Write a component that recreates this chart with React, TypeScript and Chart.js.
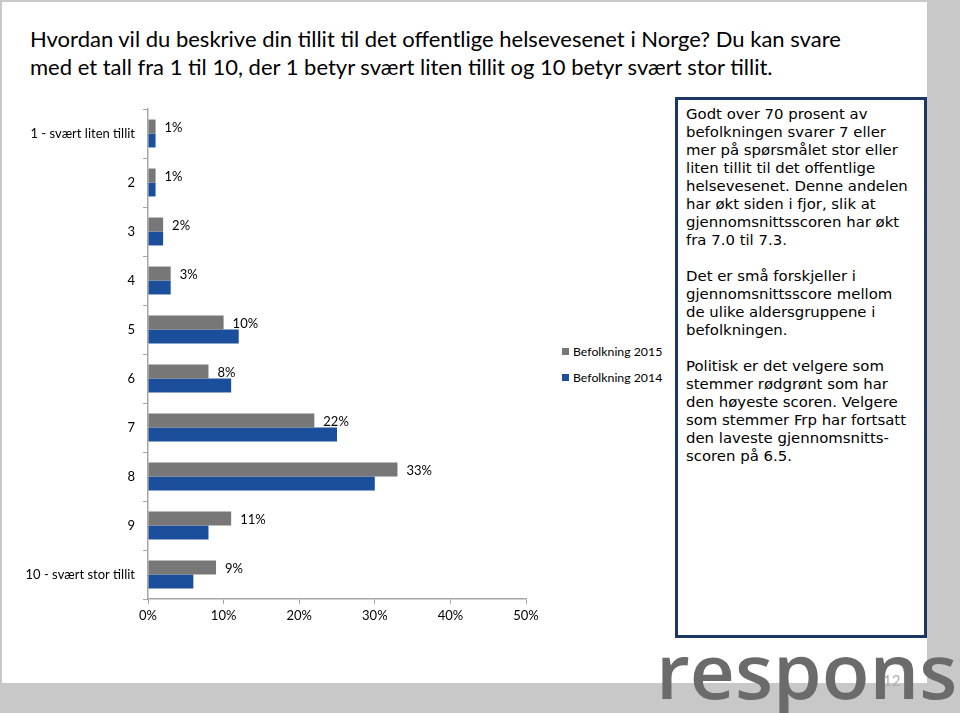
import React, { useEffect, useRef } from "react";
import { Chart, registerables } from "chart.js";

Chart.register(...registerables);

const categories = [
  "1 - svært liten tillit",
  "2",
  "3",
  "4",
  "5",
  "6",
  "7",
  "8",
  "9",
  "10 - svært stor tillit",
];
const values2015 = [1, 1, 2, 3, 10, 8, 22, 33, 11, 9];
const values2014 = [1, 1, 2, 3, 12, 11, 25, 30, 8, 6];
const seriesLabels = ["Befolkning 2015", "Befolkning 2014"];
const seriesColors = ["#777777", "#1b4f9c"];
const xMin = 0;
const xMax = 50;
const xStep = 10;

const titleLines = [
  "Hvordan vil du beskrive din tillit til det offentlige helsevesenet i Norge? Du kan svare",
  "med et tall fra 1 til 10, der 1 betyr svært liten tillit og 10 betyr svært stor tillit.",
];

const boxParagraphs = [
  [
    "Godt over 70 prosent av",
    "befolkningen svarer 7 eller",
    "mer på spørsmålet stor eller",
    "liten tillit til det offentlige",
    "helsevesenet. Denne andelen",
    "har økt siden i fjor, slik at",
    "gjennomsnittsscoren har økt",
    "fra 7.0 til 7.3.",
  ],
  [
    "Det er små forskjeller i",
    "gjennomsnittsscore mellom",
    "de ulike aldersgruppene i",
    "befolkningen.",
  ],
  [
    "Politisk er det velgere som",
    "stemmer rødgrønt som har",
    "den høyeste scoren. Velgere",
    "som stemmer Frp har fortsatt",
    "den laveste gjennomsnitts-",
    "scoren på 6.5.",
  ],
];

const FONT = "Lato, 'Open Sans', sans-serif";

const valueLabelPlugin = {
  id: "valueLabels",
  afterDatasetsDraw(chart: any) {
    const ctx = chart.ctx;
    const meta = chart.getDatasetMeta(0);
    const data = chart.data.datasets[0].data as number[];
    ctx.save();
    ctx.font = "13px " + FONT;
    ctx.fillStyle = "#000";
    ctx.textAlign = "left";
    ctx.textBaseline = "middle";
    meta.data.forEach((el: any, i: number) => {
      ctx.fillText(data[i] + "%", el.x + 9, el.y + 1);
    });
    ctx.restore();
  },
};

function BarChart() {
  const ref = useRef<HTMLCanvasElement | null>(null);
  useEffect(() => {
    if (!ref.current) return;
    const chart = new Chart(ref.current, {
      type: "bar",
      data: {
        labels: categories,
        datasets: [
          {
            label: seriesLabels[0],
            data: values2015,
            backgroundColor: seriesColors[0],
            barPercentage: 1,
            categoryPercentage: 0.57,
          },
          {
            label: seriesLabels[1],
            data: values2014,
            backgroundColor: seriesColors[1],
            barPercentage: 1,
            categoryPercentage: 0.57,
          },
        ],
      },
      options: {
        indexAxis: "y",
        animation: false,
        responsive: false,
        devicePixelRatio: 1,
        layout: { padding: { top: 109, right: 34, bottom: 0, left: 0 } },
        plugins: {
          legend: { display: false },
          tooltip: { enabled: false },
        },
        scales: {
          x: {
            min: xMin,
            max: xMax,
            ticks: {
              stepSize: xStep,
              callback: (v: any) => v + "%",
              color: "#000",
              font: { family: FONT, size: 13 },
              padding: 4,
            },
            grid: {
              drawOnChartArea: false,
              drawTicks: true,
              tickLength: 5,
              color: "#a6a6a6",
            },
            border: { color: "#a6a6a6", width: 1.5 },
            afterFit: (scale: any) => {
              scale.height = 31;
            },
          },
          y: {
            ticks: {
              color: "#000",
              font: { family: FONT, size: 13 },
              padding: 8,
            },
            grid: {
              offset: true,
              drawOnChartArea: false,
              drawTicks: true,
              tickLength: 5,
              color: "#a6a6a6",
            },
            border: { color: "#a6a6a6", width: 1.5 },
            afterFit: (scale: any) => {
              scale.width = 148;
            },
          },
        },
      },
      plugins: [valueLabelPlugin],
    } as any);
    return () => chart.destroy();
  }, []);
  return (
    <canvas
      ref={ref}
      width={560}
      height={630}
      style={{ position: "absolute", left: 0, top: 0, width: 560, height: 630 }}
    />
  );
}

export default function App() {
  return (
    <div
      style={{
        position: "fixed",
        left: 0,
        top: 0,
        width: 960,
        height: 713,
        background: "#c8c8c8",
        overflow: "hidden",
        fontFamily: FONT,
      }}
    >
      <div
        style={{
          position: "absolute",
          left: 2,
          top: 2,
          width: 925,
          height: 681,
          background: "#ffffff",
        }}
      />
      <div
        style={{
          position: "absolute",
          left: 30,
          top: 25,
          fontSize: 22,
          lineHeight: "28px",
          color: "#000",
          whiteSpace: "nowrap",
        }}
      >
        {titleLines.map((l, i) => (
          <div key={i}>{l}</div>
        ))}
      </div>
      <BarChart />
      {seriesLabels.map((lab, i) => (
        <div
          key={lab}
          style={{
            position: "absolute",
            left: 562,
            top: 342 + i * 26,
            height: 18,
            display: "flex",
            alignItems: "center",
            fontSize: 12.3,
            color: "#000",
            whiteSpace: "nowrap",
          }}
        >
          <span
            style={{
              display: "inline-block",
              width: 7,
              height: 7,
              background: seriesColors[i],
              marginRight: 4,
            }}
          />
          {lab}
        </div>
      ))}
      <div
        style={{
          position: "absolute",
          left: 675,
          top: 97,
          width: 252,
          height: 541,
          boxSizing: "border-box",
          border: "3px solid #1c3766",
          background: "#fff",
          padding: "5px 0 0 8px",
          fontFamily: "'DejaVu Sans', Verdana, sans-serif",
          fontSize: 14.9,
          lineHeight: "18px",
          color: "#000",
          whiteSpace: "nowrap",
        }}
      >
        {boxParagraphs.map((p, pi) => (
          <div key={pi} style={{ marginBottom: 18 }}>
            {p.map((l, li) => (
              <div key={li}>{l}</div>
            ))}
          </div>
        ))}
      </div>
      <div
        style={{
          position: "absolute",
          left: 656,
          top: 632,
          fontFamily: "'Open Sans', sans-serif",
          fontWeight: 600,
          fontSize: 76,
          lineHeight: "76px",
          color: "#6b6b6b",
          whiteSpace: "nowrap",
          transformOrigin: "left top",
          transform: "scaleX(1.03)",
        }}
      >
        respons
      </div>
      <div
        style={{
          position: "absolute",
          left: 883,
          top: 671,
          fontSize: 15,
          color: "#b0b0b0",
        }}
      >
        12
      </div>
    </div>
  );
}
